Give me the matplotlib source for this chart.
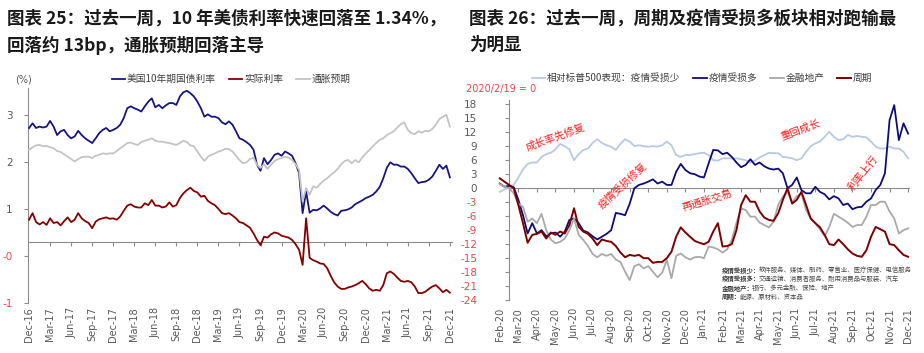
import numpy as np
import matplotlib
matplotlib.use("Agg")
import matplotlib.pyplot as plt

plt.rcParams['font.family'] = ['DejaVu Sans', 'Noto Sans CJK SC']
CJK = ['Noto Sans CJK SC', 'DejaVu Sans']

# ---------------- Left chart data (semi-monthly, Dec-16 .. Dec-21) ----------------
left_labels = ['Dec-16', 'Mar-17', 'Jun-17', 'Sep-17', 'Dec-17', 'Mar-18', 'Jun-18', 'Sep-18',
               'Dec-18', 'Mar-19', 'Jun-19', 'Sep-19', 'Dec-19', 'Mar-20', 'Jun-20', 'Sep-20',
               'Dec-20', 'Mar-21', 'Jun-21', 'Sep-21', 'Dec-21']

ust10y = [2.72, 2.82, 2.72, 2.75, 2.73, 2.75, 2.87, 2.75, 2.57, 2.65, 2.68, 2.57, 2.50, 2.54, 2.66,
          2.57, 2.50, 2.45, 2.40, 2.50, 2.61, 2.68, 2.72, 2.65, 2.68, 2.72, 2.79, 2.93, 3.14, 3.18,
          3.14, 3.11, 3.07, 3.18, 3.28, 3.35, 3.16, 3.21, 3.14, 3.20, 3.25, 3.25, 3.21, 3.39, 3.48,
          3.51, 3.46, 3.39, 3.28, 3.14, 2.96, 3.01, 2.96, 2.96, 2.93, 2.84, 2.80, 2.86, 2.79, 2.65,
          2.50, 2.47, 2.42, 2.36, 2.26, 1.94, 1.81, 2.08, 1.95, 2.04, 2.15, 2.18, 2.13, 2.22, 2.18,
          2.13, 1.97, 1.76, 0.91, 1.37, 0.92, 0.98, 0.97, 1.01, 1.07, 1.01, 0.94, 0.89, 0.86, 0.96,
          0.97, 0.99, 1.03, 1.10, 1.14, 1.18, 1.23, 1.26, 1.30, 1.37, 1.47, 1.65, 1.87, 1.99, 1.94,
          1.94, 1.90, 1.90, 1.85, 1.76, 1.65, 1.55, 1.57, 1.58, 1.62, 1.69, 1.81, 1.94, 1.85, 1.92,
          1.67]

real_rate = [0.77, 0.91, 0.72, 0.67, 0.72, 0.66, 0.80, 0.70, 0.72, 0.65, 0.74, 0.82, 0.72, 0.77, 0.91,
             0.80, 0.74, 0.70, 0.59, 0.73, 0.78, 0.80, 0.82, 0.79, 0.80, 0.77, 0.84, 0.96, 1.07, 1.10,
             1.05, 1.03, 1.03, 1.12, 1.08, 1.19, 1.07, 1.07, 1.03, 1.05, 1.14, 1.05, 1.08, 1.23, 1.33,
             1.40, 1.45, 1.38, 1.35, 1.26, 1.28, 1.17, 1.12, 1.08, 1.00, 0.91, 0.89, 0.91, 0.86, 0.80,
             0.72, 0.70, 0.65, 0.60, 0.48, 0.34, 0.23, 0.41, 0.39, 0.46, 0.50, 0.48, 0.43, 0.41, 0.39,
             0.34, 0.25, 0.13, -0.19, 0.80, -0.04, -0.09, -0.12, -0.16, -0.17, -0.26, -0.42, -0.56, -0.65, -0.70,
             -0.70, -0.67, -0.65, -0.62, -0.58, -0.53, -0.60, -0.69, -0.74, -0.72, -0.74, -0.62, -0.37, -0.33, -0.38,
             -0.46, -0.53, -0.55, -0.53, -0.56, -0.65, -0.79, -0.79, -0.76, -0.70, -0.65, -0.62, -0.69, -0.77, -0.72,
             -0.78]

breakeven = [2.26, 2.31, 2.35, 2.36, 2.33, 2.34, 2.31, 2.29, 2.23, 2.21, 2.16, 2.11, 2.06, 2.01, 2.06,
             2.10, 2.11, 2.11, 2.08, 2.13, 2.15, 2.18, 2.17, 2.18, 2.18, 2.23, 2.29, 2.34, 2.40, 2.41,
             2.38, 2.36, 2.42, 2.45, 2.47, 2.50, 2.45, 2.43, 2.43, 2.41, 2.40, 2.38, 2.36, 2.40, 2.45,
             2.42, 2.35, 2.33, 2.22, 2.11, 2.02, 2.11, 2.15, 2.18, 2.22, 2.24, 2.28, 2.27, 2.22, 2.13,
             2.04, 1.97, 1.99, 2.06, 2.09, 1.94, 1.87, 1.95, 1.85, 1.94, 2.02, 2.06, 2.08, 2.11, 2.09,
             2.04, 1.95, 1.83, 1.16, 1.44, 1.30, 1.48, 1.45, 1.53, 1.60, 1.65, 1.72, 1.78, 1.85, 1.95,
             2.02, 2.04, 1.97, 2.04, 1.99, 2.09, 2.18, 2.25, 2.33, 2.40, 2.47, 2.50, 2.57, 2.61, 2.65,
             2.73, 2.80, 2.84, 2.68, 2.61, 2.59, 2.65, 2.62, 2.66, 2.65, 2.70, 2.79, 2.91, 2.96, 3.00,
             2.75]

left_names = ['美国10年期国债利率', '实际利率', '通胀预期']

# ---------------- Right chart data (quarter-monthly, Feb-20 .. Dec-21) ----------------
right_labels = ['Feb-20', 'Mar-20', 'Apr-20', 'May-20', 'Jun-20', 'Jul-20', 'Aug-20', 'Sep-20',
                'Oct-20', 'Nov-20', 'Dec-20', 'Jan-21', 'Feb-21', 'Mar-21', 'Apr-21', 'May-21',
                'Jun-21', 'Jul-21', 'Aug-21', 'Sep-21', 'Oct-21', 'Nov-21', 'Dec-21']

less_hit = [-0.9, -0.4, 0.1, 0.6, 2.2, 3.9, 5.1, 5.4, 5.4, 6.6, 7.2, 7.5, 8.2, 9.4, 8.9,
            8.2, 5.9, 7.2, 8.1, 8.4, 9.6, 10.4, 9.6, 9.1, 8.8, 8.1, 9.4, 10.4, 9.9, 8.9,
            9.1, 8.9, 8.8, 8.9, 8.8, 9.1, 9.9, 9.1, 7.0, 6.6, 7.0, 7.0, 7.2, 7.4, 7.5,
            7.0, 5.9, 5.8, 6.3, 6.3, 6.3, 6.3, 6.1, 5.9, 5.4, 5.8, 6.5, 7.0, 7.5, 7.4,
            7.4, 6.6, 6.5, 6.3, 5.9, 6.3, 7.7, 8.9, 9.5, 9.9, 10.9, 12.0, 10.9, 10.2, 10.4,
            11.3, 10.9, 11.1, 10.9, 10.8, 9.9, 8.8, 8.4, 8.4, 8.8, 8.4, 8.4, 7.7, 6.3]

more_hit = [0.9, 0.2, 0.4, 0.1, -2.6, -5.9, -9.8, -7.6, -9.8, -9.1, -10.4, -9.8, -9.6, -10.5, -9.4,
            -6.9, -6.6, -7.6, -9.2, -9.6, -10.4, -11.1, -10.5, -9.9, -9.1, -5.4, -5.6, -5.9, -3.4, -0.1,
            0.6, 0.9, 1.3, 1.8, 0.9, 1.3, 0.6, 0.6, 3.4, 5.1, 3.8, 3.1, 2.9, 2.4, 2.2,
            5.2, 8.1, 8.0, 7.2, 7.5, 6.6, 5.4, 4.4, 4.9, 6.1, 4.9, 5.4, 4.6, 4.1, 3.9,
            4.1, 3.1, -0.1, 0.6, 2.2, -0.5, -1.2, -1.2, 0.2, -0.9, -1.4, -2.5, -1.8, -2.3, -3.7,
            -3.4, -4.6, -4.2, -4.1, -3.0, -2.3, -0.5, 0.6, 3.1, 14.5, 17.7, 10.2, 13.8, 11.6]

fin_re = [0.8, 0.2, -0.1, -1.2, -3.4, -4.1, -7.3, -6.6, -7.6, -5.6, -9.1, -11.1, -11.9, -11.6, -10.9,
          -9.1, -6.6, -10.1, -11.2, -12.5, -14.2, -14.9, -14.2, -14.6, -14.2, -15.4, -15.9, -18.0, -19.8, -16.8,
          -16.4, -17.3, -16.8, -18.0, -19.2, -18.2, -15.5, -19.4, -14.6, -14.1, -14.9, -15.4, -14.9, -14.8, -15.1,
          -12.6, -12.8, -13.2, -13.9, -13.2, -11.2, -7.5, -4.4, -4.8, -6.2, -6.2, -7.5, -8.0, -8.5, -7.3,
          -3.7, -1.9, -0.9, -3.2, -1.8, -1.2, -4.8, -6.6, -7.6, -8.9, -10.4, -8.4, -5.6, -6.2, -6.8,
          -7.5, -8.4, -8.0, -8.0, -6.2, -3.7, -3.7, -3.0, -3.0, -5.1, -6.6, -9.8, -9.1, -8.7]

cyclical = [2.0, 1.3, 0.6, -0.1, -3.7, -7.6, -11.8, -10.1, -9.9, -9.4, -10.9, -9.6, -10.1, -9.4, -9.8,
            -8.0, -4.4, -8.4, -9.4, -9.9, -10.9, -12.3, -11.1, -11.4, -11.6, -12.5, -13.9, -14.9, -14.4, -14.6,
            -14.4, -15.1, -15.1, -16.1, -15.9, -15.9, -15.1, -13.7, -10.5, -8.5, -9.6, -10.5, -11.4, -11.8, -12.1,
            -11.6, -9.4, -7.6, -12.6, -12.5, -12.1, -9.1, -3.7, -1.6, -3.0, -3.0, -5.1, -6.4, -6.9, -7.1,
            -5.5, -2.6, -0.1, -3.4, -2.6, -0.9, -3.7, -6.6, -7.6, -8.5, -10.1, -12.1, -12.3, -11.1, -12.1,
            -13.2, -14.1, -14.6, -14.8, -13.4, -10.5, -8.4, -8.9, -9.4, -12.1, -12.3, -13.4, -14.4, -14.8]

right_names = ['相对标普500表现：疫情受损少', '疫情受损多', '金融地产', '周期']

phases = ['成长率先修复', '疫情受损修复', '再通胀交易', '重回成长', '利率上行']

foot_heads = ['疫情受损少：', '疫情受损多：', '金融地产：', '周期：']
foot_bodies = ['软件服务、媒体、制药、零售业、医疗保健、电信服务',
               '交通运输、消费者服务、耐用消费品与服装、汽车',
               '银行、多元金融、保险、地产',
               '能源、原材料、资本品']

title_left = ['图表 25：过去一周，10 年美债利率快速回落至 1.34%，', '回落约 13bp，通胀预期回落主导']
title_right = ['图表 26：过去一周，周期及疫情受损多板块相对跑输最', '为明显']

# ---------------- Figure ----------------
W, H = 924, 353
fig = plt.figure(figsize=(W / 100, H / 100), dpi=100)

AX_GRAY = '#8c8c8c'
TXT_GRAY = '#595959'
LBL_RED = '#e8474a'

def fx(p):
    return p / W

def fy(p):
    return 1 - p / H

# Titles
for j, line in enumerate(title_left):
    fig.text(fx(7), fy(19 + 26 * j), line, fontsize=12.6, weight='bold', va='center', ha='left',
             family=CJK, color='#1a1a1a')
for j, line in enumerate(title_right):
    fig.text(fx(469), fy(19 + 26 * j), line, fontsize=12.6, weight='bold', va='center', ha='left',
             family=CJK, color='#1a1a1a')

# ---------- Left axes ----------
ax1 = fig.add_axes([fx(28), fy(303), fx(452) - fx(28), fy(88) - fy(303)])
x1 = np.arange(len(ust10y)) / 2.0
ax1.plot(x1, ust10y, color='#16167e', lw=1.3, label=left_names[0], zorder=3)
ax1.plot(x1, real_rate, color='#870000', lw=1.3, label=left_names[1], zorder=3)
ax1.plot(x1, breakeven, color='#c4c4c4', lw=1.3, label=left_names[2], zorder=3)
ax1.set_xlim(-0.15, 60.3)
ax1.set_ylim(-1, 3.57)
for s in ['top', 'right']:
    ax1.spines[s].set_visible(False)
ax1.spines['left'].set_color(AX_GRAY)
ax1.spines['bottom'].set_color(AX_GRAY)
ax1.spines['bottom'].set_position(('data', 0.3))
ticks1 = np.arange(0, 61, 3)
ax1.set_xticks(ticks1[1:])
ax1.tick_params(axis='x', labelbottom=False, length=3, color=AX_GRAY, direction='out')
sec1 = ax1.secondary_xaxis('bottom')
sec1.set_xticks(ticks1, labels=left_labels, rotation=90)
sec1.tick_params(length=0, labelsize=7, labelcolor=TXT_GRAY, pad=3)
sec1.spines['bottom'].set_visible(False)
ax1.set_yticks([-1, 0, 1, 2, 3], labels=['-1', '-0', '1', '2', '3'])
ax1.tick_params(axis='y', length=3, color=AX_GRAY, labelsize=7.5, pad=8)
for lab, c in zip(ax1.get_yticklabels(), [LBL_RED, LBL_RED, TXT_GRAY, TXT_GRAY, TXT_GRAY]):
    lab.set_color(c)
fig.text(fx(24), fy(79), '(%)', fontsize=7, color=TXT_GRAY, ha='center', va='center')
leg1 = ax1.legend(loc='center', bbox_to_anchor=(fx(231), fy(79)), bbox_transform=fig.transFigure,
                  ncol=3, frameon=False, prop={'family': CJK, 'size': 7}, handlelength=1.4,
                  handletextpad=0.2, columnspacing=1.3, borderaxespad=0)
for t in leg1.get_texts():
    t.set_color('#404040')

# ---------- Right axes ----------
ax2 = fig.add_axes([fx(497), fy(299.7), fx(910) - fx(497), fy(100) - fy(299.7)])
x2 = np.arange(len(less_hit)) / 4.0
ax2.plot(x2, less_hit, color='#b8c9e3', lw=1.3, label=right_names[0], zorder=3)
ax2.plot(x2, more_hit, color='#0c0c7a', lw=1.3, label=right_names[1], zorder=3)
ax2.plot(x2, fin_re, color='#a9a9a9', lw=1.3, label=right_names[2], zorder=3)
ax2.plot(x2, cyclical, color='#7d0000', lw=1.4, label=right_names[3], zorder=3)
ax2.set_xlim(-0.15, 22.1)
ax2.set_ylim(-24, 18.8)
for s in ['top', 'right']:
    ax2.spines[s].set_visible(False)
ax2.spines['left'].set_color(AX_GRAY)
ax2.spines['left'].set_position(('data', 0.5))
ax2.spines['bottom'].set_color(AX_GRAY)
ax2.spines['bottom'].set_position(('data', 0))
ax2.spines['bottom'].set_bounds(0.5, 22.05)
ticks2 = np.arange(0, 23)
ax2.set_xticks(ticks2[1:])
ax2.tick_params(axis='x', labelbottom=False, length=3, color=AX_GRAY, direction='out')
sec2 = ax2.secondary_xaxis('bottom')
sec2.set_xticks(ticks2, labels=right_labels, rotation=90)
sec2.tick_params(length=0, labelsize=7, labelcolor=TXT_GRAY, pad=6)
sec2.spines['bottom'].set_visible(False)
yt2 = np.arange(-24, 19, 3)
ax2.set_yticks(yt2, labels=[str(v) for v in yt2])
ax2.tick_params(axis='y', length=3, color=AX_GRAY, labelsize=7.5, pad=20)
for lab, v in zip(ax2.get_yticklabels(), yt2):
    lab.set_color(LBL_RED if v < 0 else TXT_GRAY)
fig.text(fx(466), fy(89), '2020/2/19 = 0', fontsize=7, color=LBL_RED, ha='left', va='center')
leg2 = ax2.legend(loc='center', bbox_to_anchor=(fx(702), fy(78)), bbox_transform=fig.transFigure,
                  ncol=4, frameon=False, prop={'family': CJK, 'size': 7}, handlelength=1.4,
                  handletextpad=0.2, columnspacing=1.3, borderaxespad=0)
for t in leg2.get_texts():
    t.set_color('#404040')

# phase annotations
ann_pos = [(2.97, 10.9, 20), (6.6, 0.4, 43), (11.15, -2.8, 17), (16.2, 12.4, 20), (19.6, 3.1, 52)]
for s, (tx, ty, rot) in zip(phases, ann_pos):
    ax2.text(tx, ty, s, rotation=rot, color='#ff1a1a', fontsize=7.5, ha='center', va='center',
             rotation_mode='anchor', family=CJK, zorder=5)

# footnote: bold heading followed by normal body text
fig.canvas.draw()
renderer = fig.canvas.get_renderer()
for j, (hd, bd) in enumerate(zip(foot_heads, foot_bodies)):
    ypix = 270 + 9 * j
    h = fig.text(fx(722), fy(ypix), hd, fontsize=4.6, weight='bold', color='#3a3a3a',
                 ha='left', va='center', family=CJK)
    bb = h.get_window_extent(renderer=renderer)
    fig.text(bb.x1 / W - 0.002, fy(ypix), bd, fontsize=4.6, color='#4a4a4a',
             ha='left', va='center', family=CJK)

fig.savefig('out.png', dpi=100)
